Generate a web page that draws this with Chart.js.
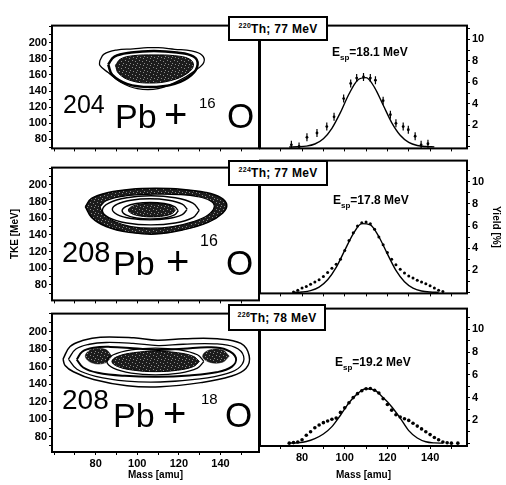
<!DOCTYPE html>
<html>
<head>
<meta charset="utf-8">
<script src="https://cdn.jsdelivr.net/npm/chart.js@4.4.0/dist/chart.umd.min.js"></script>
<style>
  body { margin: 0; background: #fff; width: 506px; height: 485px; position: relative; overflow: hidden;
         font-family: "Liberation Sans", Arial, sans-serif; }
  canvas { position: absolute; }
  .t { position: absolute; line-height: 1; white-space: nowrap; color: #000; z-index: 4; }
  .es { font-weight: bold; font-size: 12px; }
  .es sub { font-size: 8px; vertical-align: -4px; }
  .box { position: absolute; border: 2px solid #000; background: #fff; font-weight: bold; font-size: 12px;
         letter-spacing: 0.3px; box-sizing: border-box; z-index: 5; display: flex; align-items: center; justify-content: center; }
  .box sup { font-size: 7px; }
</style>
</head>
<body>

<div class="box" style="left:228px;top:16px;width:100px;height:25px"><span><sup>220</sup>Th; 77 MeV</span></div>
<div class="box" style="left:228px;top:160px;width:100px;height:26px"><span><sup>224</sup>Th; 77 MeV</span></div>
<div class="box" style="left:228px;top:304px;width:98px;height:27px"><span><sup>226</sup>Th; 78 MeV</span></div>

<div class="t es" style="left:332px;top:46px">E<sub>sp</sub>=18.1 MeV</div>
<div class="t es" style="left:333px;top:194px">E<sub>sp</sub>=17.8 MeV</div>
<div class="t es" style="left:335px;top:356px">E<sub>sp</sub>=19.2 MeV</div>

<span class="t" style="left:63px;top:92px;font-size:25px">204</span>
<span class="t" style="left:115px;top:99px;font-size:34px">Pb</span>
<span class="t" style="left:164px;top:94px;font-size:40px">+</span>
<span class="t" style="left:199px;top:95px;font-size:15px">16</span>
<span class="t" style="left:227px;top:98px;font-size:35px">O</span>

<span class="t" style="left:62px;top:238px;font-size:29px">208</span>
<span class="t" style="left:113px;top:246px;font-size:34px">Pb</span>
<span class="t" style="left:166px;top:241px;font-size:40px">+</span>
<span class="t" style="left:200px;top:233px;font-size:16px">16</span>
<span class="t" style="left:226px;top:245px;font-size:35px">O</span>

<span class="t" style="left:62px;top:386px;font-size:28px">208</span>
<span class="t" style="left:113px;top:398px;font-size:34px">Pb</span>
<span class="t" style="left:163px;top:393px;font-size:40px">+</span>
<span class="t" style="left:201px;top:391px;font-size:15px">18</span>
<span class="t" style="left:225px;top:397px;font-size:35px">O</span>

<script>
// tick labels
const tkeTicks = [80, 100, 120, 140, 160, 180, 200];
const yieldTicks = [2, 4, 6, 8, 10];
const massTicks = [80, 100, 120, 140];

// contours, [mass, TKE]
const r1Outer = [[82,178],[84,186],[90,191],[98,192.5],[105,194],[110,194],[118,192],[126,190],[131,185],[132,176],[128,166],[120,153],[110,143],[100,143],[92,151],[86,163],[82,172],[82,178]];
const r1Mid = [[86,173],[89,183],[97,188],[108,190],[119,188],[127,183],[129,173],[126,160],[118,149],[106,145],[95,149],[88,160],[86,173]];
const r1Core = [[89.5,172],[92,180],[98,184],[108,185],[118,184],[125,180],[127,172],[124,162],[116,153],[106,150],[97,153],[91,162],[89.5,172]];

const r2BandOut = [[75,174],[78,184],[86,191],[97,195],[109,196],[121,195],[133,191],[140,185],[143,176],[141,166],[134,155],[122,146],[109,141],[96,143],[85,150],[78,161],[75,174]];
const r2BandIn = [[82,174],[85,181],[92,186],[101,188.5],[110,189],[120,188.5],[129,186],[135,181],[137,174],[134,164],[127,156],[117,150],[107,148],[97,150],[89,156],[84,164],[82,174]];
const r2RingA = [[129.8,169.5],[126.7,178.3],[118.2,184.7],[106.5,187],[94.9,184.7],[86.3,178.3],[83.2,169.5],[86.3,160.8],[94.9,154.3],[106.5,152],[118.2,154.3],[126.7,160.8],[129.8,169.5]];
const r2RingB = [[124,170.7],[121.6,177.1],[115,181.7],[106,183.4],[97,181.7],[90.4,177.1],[88,170.7],[90.4,164.4],[97,159.7],[106,158],[115,159.7],[121.6,164.4],[124,170.7]];
const r2RingC = [[119.7,169],[117.9,174],[113,177.7],[106.2,179],[99.5,177.7],[94.5,174],[92.7,169],[94.5,164],[99.5,160.3],[106.2,159],[113,160.3],[117.9,164],[119.7,169]];
const r2Core = [[118.3,169.8],[116.8,173.9],[112.7,176.9],[107,178],[101.4,176.9],[97.2,173.9],[95.7,169.8],[97.2,165.7],[101.4,162.7],[107,161.6],[112.7,162.7],[116.8,165.7],[118.3,169.8]];

const r3Outer = [[64.3,168.6],[67.7,182.9],[74.1,190],[82.2,193.6],[98.3,192.8],[109.6,190],[122.4,191.7],[138.5,191.7],[149.8,186.4],[153.8,172.1],[152.2,157.9],[145,149],[130.5,141.8],[111.2,137.1],[95.1,138.2],[79,145.3],[69.3,154.2],[65.3,161.4],[64.3,168.6]];
const r3Second = [[66.9,168.6],[70.5,180],[77,185.5],[85,187.5],[98,186.5],[110,184],[122,185.5],[137,186],[147,182],[151.1,172],[149.5,160],[143,152],[130,146],[111,142.5],[95,143.5],[80,149],[71,157],[66.9,168.6]];
const r3Third = [[70.9,168],[73.5,177],[79,181.5],[87,182.5],[98,181],[110,179],[122,180.5],[135,182],[143,179],[147.4,170],[145.5,160],[138,153.5],[125,150],[110,148.5],[94,149.5],[81,153],[74,159],[70.9,168]];
const r3BlobL = [[87.8,172],[84.6,179.7],[78.2,179.7],[75,172],[78.2,164.3],[84.6,164.3],[87.8,172]];
const r3BlobR = [[144.2,172],[141,178.9],[134.6,178.9],[131.4,172],[134.6,165.1],[141,165.1],[144.2,172]];
const r3Inner = [[132,165.9],[128.9,173.5],[120.4,179.1],[108.7,181.1],[97.1,179.1],[88.5,173.5],[85.4,165.9],[88.5,158.3],[97.1,152.7],[108.7,150.7],[120.4,152.7],[128.9,158.3],[132,165.9]];
const r3Core = [[129.8,165.9],[127,171.7],[119.3,175.9],[108.8,177.5],[98.3,175.9],[90.6,171.7],[87.8,165.9],[90.6,160.1],[98.3,155.9],[108.8,154.3],[119.3,155.9],[127,160.1],[129.8,165.9]];

// yields
const curve1Mass = [74,78,82,86,90,94,98,102,106,110,114,118,122,126,130,134,138,142];
const curve1Yield = [0,0.02,0.08,0.28,0.77,1.74,3.21,4.92,6.2,6.44,5.52,3.9,2.27,1.09,0.43,0.14,0.04,0.01];
const pts1Mass = [75,78.6,82.3,87,91.6,95,99.5,102.8,105.6,108.8,112,114.4,118,121.4,124,127.4,129.8,133,135.8,139];
const pts1Yield = [0.2,0.05,0.9,1.3,1.9,2.8,4.5,5.9,6.4,6.5,6.4,6.2,4.3,3.0,2.2,1.9,1.6,1.0,0.2,0.3];

const curve2Mass = [76,80,84,88,92,96,100,104,108,112,116,120,124,128,132,136,140,144];
const curve2Yield = [0.01,0.05,0.17,0.49,1.15,2.27,3.8,5.3,6.21,6.1,5.03,3.48,2.0,0.98,0.4,0.14,0.04,0.01];
const pts2Mass = [76,78,80,82,84,86,88,90,92,94,96,98,100,102,104,106,108,110,112,114,116,118,120,122,124,126,128,130,132,134,136,138,140,142,144,146];
const pts2Yield = [0.05,0.2,0.4,0.55,0.75,0.95,1.15,1.45,1.8,2.2,2.55,3.0,3.8,4.7,5.4,6.0,6.3,6.35,6.2,5.7,5.0,4.3,3.6,3.0,2.5,2.1,1.75,1.5,1.3,1.1,0.95,0.8,0.6,0.4,0.2,0.1];

const curve3Mass = [74,78,82,86,90,94,98,102,106,110,114,118,122,126,130,134,138,142,146];
const curve3Yield = [0,0.04,0.15,0.4,0.8,1.45,2.45,3.55,4.35,4.78,4.65,4.0,3.2,2.2,1.1,0.45,0.12,0.02,0];
const pts3Mass = [74,76,78,80,82,84,86,88,90,92,94,96,98,100,102,104,106,108,110,112,114,116,118,120,122,124,126,128,130,132,134,136,138,140,142,144,146,148,150,153];
const pts3Yield = [0,0.05,0.1,0.3,0.7,1.0,1.35,1.6,1.8,1.95,2.1,2.2,2.7,3.1,3.55,4.0,4.35,4.6,4.78,4.8,4.65,4.4,3.9,3.4,2.9,2.5,2.3,2.15,2.0,1.75,1.5,1.25,1.0,0.75,0.5,0.3,0.1,0.03,0,0];

Chart.defaults.font.family = '"Liberation Sans", Arial, sans-serif';
Chart.defaults.font.weight = 'bold';
Chart.defaults.font.size = 11;
Chart.defaults.color = '#000';

const frame = {
  id: 'frame',
  afterDatasetsDraw(chart) {
    const a = chart.chartArea, c = chart.ctx;
    c.save();
    c.strokeStyle = '#000';
    c.lineWidth = 2;
    c.strokeRect(a.left, a.top, a.right - a.left, a.bottom - a.top);
    c.restore();
  }
};

function speckle() {
  const p = document.createElement('canvas');
  p.width = 7; p.height = 7;
  const g = p.getContext('2d');
  g.fillStyle = '#1c1c1c';
  g.fillRect(0, 0, 7, 7);
  g.fillStyle = '#8a8a8a';
  [[1,1],[4,2],[2,5],[6,4],[5,6]].forEach(([x, y]) => g.fillRect(x, y, 1, 1));
  return g.createPattern(p, 'repeat');
}
const dark = speckle();

function makeCanvas(left, top, w, h) {
  const cv = document.createElement('canvas');
  cv.width = w; cv.height = h;
  cv.style.left = left + 'px'; cv.style.top = top + 'px';
  cv.style.width = w + 'px'; cv.style.height = h + 'px';
  document.body.appendChild(cv);
  return cv;
}

function pairs(a) { return a.map(p => ({ x: p[0], y: p[1] })); }
function xy(xs, ys) { return xs.map((x, i) => ({ x: x, y: ys[i] })); }

function line(pts, width, filled) {
  return {
    data: pairs(pts), showLine: true, borderColor: '#000', borderWidth: width,
    tension: 0.4, pointRadius: 0,
    fill: filled ? 'shape' : false, backgroundColor: filled || 'transparent'
  };
}

// bottom-most dataset first
function stack(sets) {
  sets.forEach((s, i) => { s.order = sets.length - i; });
  return sets;
}

function xScale(min, max, h, bottom) {
  return {
    min: min, max: max,
    afterFit: s => { s.height = h; },
    border: { display: false },
    grid: { drawOnChartArea: false, tickLength: 3, color: '#000' },
    ticks: { stepSize: 10, includeBounds: false, autoSkip: false, maxRotation: 0, display: bottom, padding: 2,
             callback: v => massTicks.includes(v) ? v : '' },
    title: { display: bottom, text: 'Mass [amu]', font: { size: 10, weight: 'bold' }, padding: { top: 2, bottom: 4 } }
  };
}

function contourChart(top, h, xH, tMin, tMax, sets, bottom, title) {
  new Chart(makeCanvas(5, top, 257, h), {
    type: 'scatter',
    data: { datasets: stack(sets) },
    options: {
      responsive: false, animation: false, devicePixelRatio: 1,
      layout: { padding: { left: 0, right: 3, top: 0, bottom: 0 }, autoPadding: false },
      plugins: { legend: { display: false }, tooltip: { enabled: false } },
      scales: {
        x: xScale(59, 158.5, xH, bottom),
        y: {
          min: tMin, max: tMax,
          afterFit: s => { s.width = 47; },
          border: { display: false },
          grid: { drawOnChartArea: false, tickLength: 3, color: '#000' },
          ticks: { stepSize: 10, includeBounds: false, autoSkip: false, padding: 2,
                   callback: v => tkeTicks.includes(v) ? v : '' },
          title: { display: !!title, text: title || '', font: { size: 10, weight: 'bold' } }
        }
      }
    },
    plugins: [frame]
  });
}

function yieldChart(top, h, xH, yMin, yMax, sets, bottom, title) {
  new Chart(makeCanvas(257, top, 249, h), {
    type: 'scatter',
    data: { datasets: stack(sets) },
    options: {
      responsive: false, animation: false, devicePixelRatio: 1,
      layout: { padding: { left: 3, right: 0, top: 0, bottom: 0 }, autoPadding: false },
      plugins: { legend: { display: false }, tooltip: { enabled: false } },
      scales: {
        x: xScale(60.3, 157.3, xH, bottom),
        y: {
          position: 'right',
          min: yMin, max: yMax,
          afterFit: s => { s.width = 39; },
          border: { display: false },
          grid: { drawOnChartArea: false, tickLength: 3, color: '#000' },
          ticks: { stepSize: 1, includeBounds: false, autoSkip: false, padding: 2,
                   callback: v => yieldTicks.includes(v) ? v : '' },
          title: { display: !!title, text: title || '', font: { size: 10, weight: 'bold' } }
        }
      }
    },
    plugins: [frame]
  });
}

function curve(xs, ys) {
  return { data: xy(xs, ys), showLine: true, borderColor: '#000', borderWidth: 1.4,
           cubicInterpolationMode: 'monotone', pointRadius: 0, fill: false };
}
function dots(xs, ys, r) {
  return { data: xy(xs, ys), showLine: false, pointRadius: r, pointBackgroundColor: '#000',
           pointBorderWidth: 0, pointBorderColor: '#000' };
}
function bars(xs, ys) {
  return { data: xy(xs, ys), showLine: false, pointStyle: 'line', rotation: 90, pointRadius: 4,
           pointBorderWidth: 1.2, pointBorderColor: '#000' };
}

// row 1: 204Pb + 16O
contourChart(17, 140, 5, 68.6, 221.5, [
  line(r1Outer, 1.3),
  line(r1Mid, 2.5),
  line(r1Core, 1, dark)
], false);
yieldChart(17, 140, 5, -0.13, 11.27, [
  curve(curve1Mass, curve1Yield),
  bars(pts1Mass, pts1Yield),
  dots(pts1Mass, pts1Yield, 1.4)
], false);

// row 2: 208Pb + 16O
contourChart(159, 150, 5, 61.2, 220.9, [
  line(r2BandOut, 1.5, dark),
  line(r2BandIn, 1.2, '#fff'),
  line(r2RingA, 1.4),
  line(r2RingB, 1.4),
  line(r2RingC, 1.4),
  line(r2Core, 1, dark)
], false, 'TKE [MeV]');
yieldChart(152, 150, 5, -0.08, 11.9, [
  curve(curve2Mass, curve2Yield),
  dots(pts2Mass, pts2Yield, 1.5)
], false, 'Yield [%]');

// row 3: 208Pb + 18O
contourChart(305, 180, 33, 62.8, 220.4, [
  line(r3Outer, 1.5),
  line(r3Second, 1.3),
  line(r3Third, 2),
  line(r3BlobL, 0.5, dark),
  line(r3BlobR, 0.5, dark),
  line(r3Inner, 1.3),
  line(r3Core, 1, dark)
], true);
yieldChart(300, 185, 39, -0.25, 11.82, [
  curve(curve3Mass, curve3Yield),
  dots(pts3Mass, pts3Yield, 1.8)
], true);
</script>
</body>
</html>
